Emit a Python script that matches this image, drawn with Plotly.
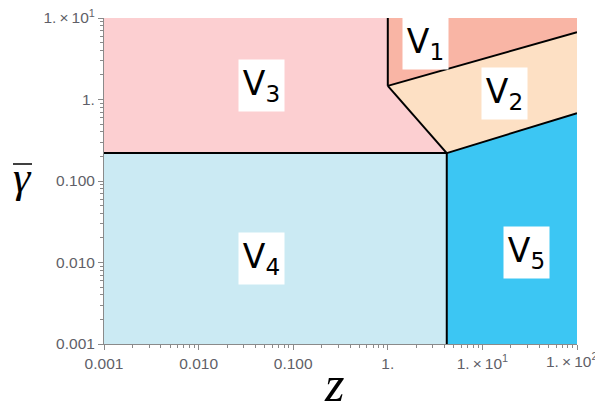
import math
import plotly.graph_objects as go

# phase boundaries (z, gamma_bar)
z_left, z_right = 0.001, 100
g_bottom, g_top = 0.001, 10
z_corner, g_corner = 4.2, 0.22     # V3/V4/V5/V2 junction
z_triple, g_triple = 1.0, 1.47     # V1/V2/V3 junction
g_v1v2_edge = 6.7                  # V1/V2 boundary at right edge
g_v2v5_edge = 0.68                 # V2/V5 boundary at right edge

regions = {
    "V3": ([z_left, z_corner, z_triple, z_triple, z_left],
           [g_corner, g_corner, g_triple, g_top, g_top], "#fccfd1"),
    "V1": ([z_triple, z_triple, z_right, z_right],
           [g_top, g_triple, g_v1v2_edge, g_top], "#f9b5a5"),
    "V2": ([z_triple, z_corner, z_right, z_right],
           [g_triple, g_corner, g_v2v5_edge, g_v1v2_edge], "#fde0c4"),
    "V4": ([z_left, z_corner, z_corner, z_left],
           [g_bottom, g_bottom, g_corner, g_corner], "#cbeaf3"),
    "V5": ([z_corner, z_right, z_right, z_corner],
           [g_bottom, g_bottom, g_v2v5_edge, g_corner], "#3cc6f3"),
}

boundaries = [
    ([z_left, z_corner], [g_corner, g_corner]),
    ([z_corner, z_corner], [g_bottom, g_corner]),
    ([z_triple, z_triple], [g_triple, g_top]),
    ([z_triple, z_corner], [g_triple, g_corner]),
    ([z_triple, z_right], [g_triple, g_v1v2_edge]),
    ([z_corner, z_right], [g_corner, g_v2v5_edge]),
]

label_names = ["V1", "V2", "V3", "V4", "V5"]
label_z = [2.52, 17.3, 0.0464, 0.0464, 28.9]
label_g = [4.8, 1.2, 1.47, 0.0113, 0.0131]

x_tickvals = [0.001, 0.01, 0.1, 1, 10, 100]
# last label is drawn separately so it is not clipped at the page edge
x_ticktext = ["0.001", "0.010", "0.100", "1.", "1.\u2009×\u200910<sup>1</sup>", ""]
x_last_label = "1.\u2009×\u200910<sup>2</sup>"
y_tickvals = [0.001, 0.01, 0.1, 1, 10]
y_ticktext = ["0.001", "0.010", "0.100", "1.", "1.\u2009×\u200910<sup>1</sup>"]
minor_x = [m * 10 ** k for k in range(-3, 2) for m in range(2, 10)]
minor_y = [m * 10 ** k for k in range(-3, 1) for m in range(2, 10)]

# the page body has an 8px margin, so the figure is 8px smaller than the window
OFF = 8
W, H = 603 - OFF, 413 - OFF
L, R, T, B = 104 - OFF, 26, 18 - OFF, 69
PW, PH = W - L - R, H - T - B


def px(x, y):
    # window pixel position -> paper coords of the plot area
    return (x - OFF - L) / PW, (H - B - (y - OFF)) / PH


fig = go.Figure()
for name, (xs, ys, col) in regions.items():
    fig.add_trace(go.Scatter(x=xs, y=ys, fill="toself", fillcolor=col, mode="lines",
                             line=dict(width=0, color=col), hoverinfo="skip", showlegend=False))
for xs, ys in boundaries:
    fig.add_trace(go.Scatter(x=xs, y=ys, mode="lines", line=dict(color="black", width=2),
                             hoverinfo="skip", showlegend=False))

for name, zx, gy in zip(label_names, label_z, label_g):
    fig.add_annotation(
        x=math.log10(zx), y=math.log10(gy), xref="x", yref="y",
        text=f"V<sub>{name[1]}</sub>", showarrow=False, bgcolor="white",
        width=43, height=49, xanchor="center", yanchor="middle",
        font=dict(family="DejaVu Sans", size=33, color="black"))

tick_font = dict(family="Liberation Sans", size=15.5, color="#5f5f68")
axis_common = dict(type="log", showgrid=False, zeroline=False, showline=True, automargin=False,
                   linecolor="#8a8a8a", linewidth=1, ticks="outside", ticklen=5,
                   tickcolor="#8a8a8a", tickfont=tick_font, ticklabeloverflow="allow")
fig.update_xaxes(range=[-3, 2], tickvals=x_tickvals, ticktext=x_ticktext,
                 minor=dict(tickvals=minor_x, ticks="outside", ticklen=3,
                            tickcolor="#8a8a8a", showgrid=False), **axis_common)
fig.update_yaxes(range=[-3, 1], tickvals=y_tickvals, ticktext=y_ticktext,
                 minor=dict(tickvals=minor_y, ticks="outside", ticklen=3,
                            tickcolor="#8a8a8a", showgrid=False), **axis_common)

lx, ly = px(598, 360)
fig.add_annotation(x=lx, y=ly, xref="paper", yref="paper", text=x_last_label,
                   xanchor="right", yanchor="middle", showarrow=False, borderpad=0,
                   font=tick_font)

zx, zy = px(334, 413)
fig.add_annotation(x=zx, y=zy, xref="paper", yref="paper", text="<i>z</i>",
                   xanchor="center", yanchor="bottom", borderpad=0,
                   showarrow=False, font=dict(family="Liberation Serif", size=50, color="black"))
gx, gy = px(11, 177)
fig.add_annotation(x=gx, y=gy, xref="paper", yref="paper", text="<i>γ</i>",
                   showarrow=False, font=dict(family="Liberation Serif", size=44, color="black"))
bx0, by = px(13, 164)
bx1, _ = px(32, 164)
fig.add_shape(type="line", xref="paper", yref="paper", x0=bx0, x1=bx1, y0=by, y1=by,
              line=dict(color="black", width=1.5))

fig.update_layout(width=W, height=H, autosize=False,
                  margin=dict(l=L, r=R, t=T, b=B),
                  plot_bgcolor="white", paper_bgcolor="white")
fig.write_html("out.html")
